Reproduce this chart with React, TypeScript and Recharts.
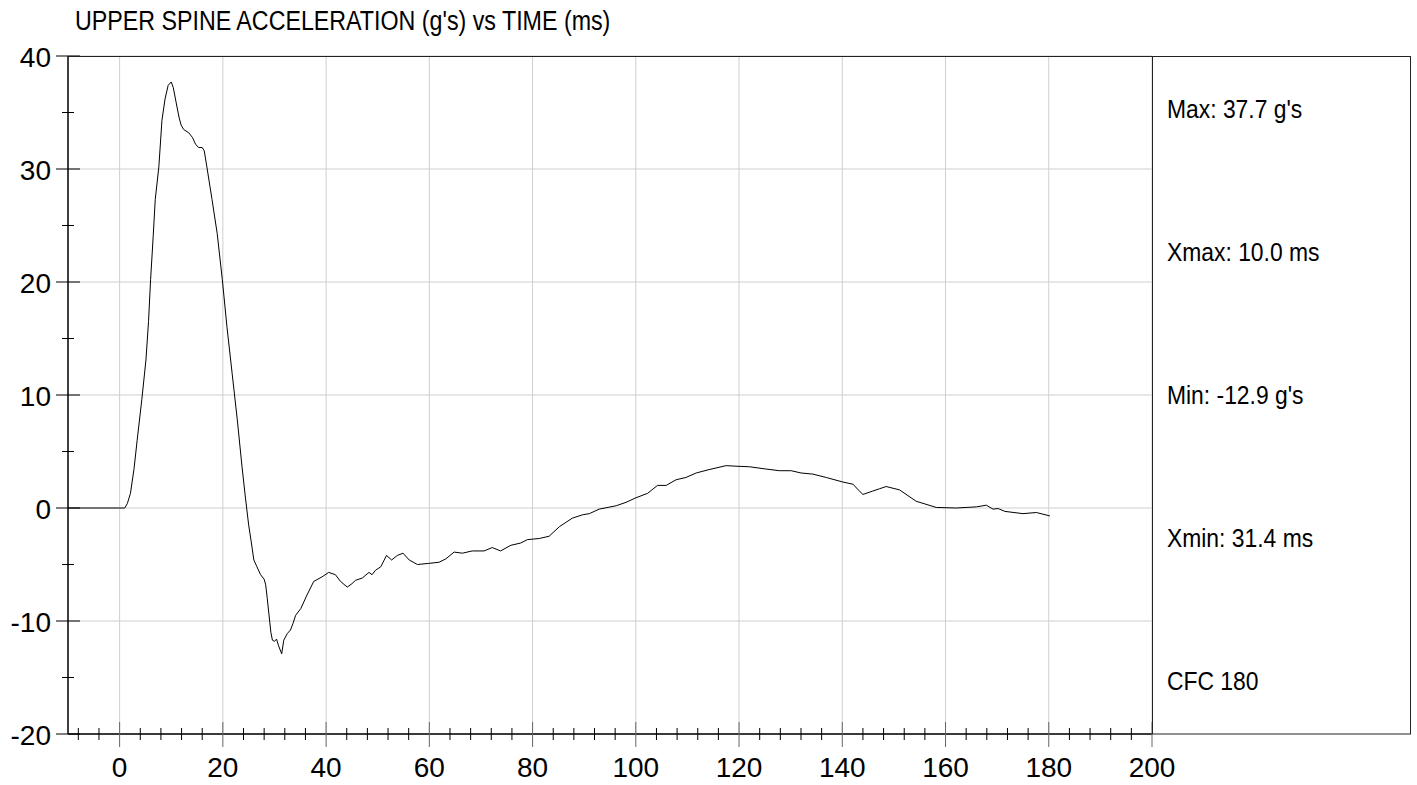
import React from "react";
import { LineChart, Line, XAxis, YAxis, CartesianGrid } from "recharts";

// sampled off the reference trace (time in ms, acceleration in g)
const timeMs = [
  -10, 0, 1.0, 1.5, 2.1, 2.8, 3.4, 4.3, 5.1, 5.6, 6.0, 6.5, 6.9, 7.6, 8.2, 8.8, 9.4, 10.0,
  10.4, 10.9, 11.5, 11.9, 12.4, 13.4, 14.1, 14.7, 15.3, 16.0, 16.4, 16.9, 17.9, 18.9, 19.9,
  20.8, 21.8, 22.8, 23.7, 24.4, 25.0, 25.5, 26.0, 26.6, 27.3, 28.0, 28.3, 28.6, 28.9, 29.3,
  29.6, 30.0, 30.4, 30.8, 31.4, 31.8, 32.5, 33.1, 33.6, 34.1, 35.1, 36.3, 37.6, 39.2, 40.5,
  41.8, 42.8, 44.1, 45.0, 45.7, 47.0, 48.3, 48.9, 49.6, 50.6, 51.7, 52.7, 53.8, 54.9, 56.1,
  57.7, 59.9, 61.9, 63.2, 64.8, 66.4, 68.3, 70.6, 72.2, 73.8, 75.8, 77.7, 79.0, 81.3, 83.2,
  85.2, 87.7, 89.7, 91.0, 92.9, 96.2, 98.1, 100.0, 102.3, 104.2, 105.9, 107.8, 109.7, 111.7,
  114.2, 117.5, 119.4, 122.0, 125.2, 127.8, 130.1, 132.0, 134.3, 136.9, 140.1, 142.1, 143.1,
  144.0, 145.9, 147.2, 148.5, 151.1, 154.3, 158.2, 162.1, 166.0, 167.9, 169.2, 170.2, 171.5,
  175.0, 177.6, 180.2,
];
const accelG = [
  0, 0, 0, 0.4, 1.3, 3.5, 6.0, 9.6, 13.1, 16.5, 20.2, 24.0, 27.3, 30.2, 34.3, 36.2, 37.4, 37.7,
  37.2, 36.0, 34.6, 33.9, 33.5, 33.2, 32.8, 32.2, 31.9, 31.9, 31.6, 30.2, 27.3, 24.3, 20.2,
  16.0, 11.9, 7.8, 3.7, 0.8, -1.5, -3.0, -4.6, -5.2, -5.9, -6.3, -6.8, -8.0, -9.3, -11.0,
  -11.7, -11.8, -11.6, -12.2, -12.9, -11.7, -11.1, -10.8, -10.2, -9.5, -8.9, -7.7, -6.5, -6.1, -5.7,
  -5.9, -6.5, -7.0, -6.7, -6.4, -6.2, -5.7, -5.9, -5.5, -5.2, -4.2, -4.6, -4.2, -4.0, -4.6,
  -5.0, -4.9, -4.8, -4.5, -3.9, -4.0, -3.8, -3.8, -3.5, -3.8, -3.3, -3.1, -2.8, -2.7, -2.5,
  -1.65, -0.9, -0.6, -0.5, -0.1, 0.2, 0.5, 0.9, 1.3, 2.0, 2.0, 2.5, 2.7, 3.1,
  3.4, 3.75, 3.7, 3.65, 3.45, 3.3, 3.3, 3.1, 3.0, 2.7, 2.3, 2.1, 1.6,
  1.2, 1.5, 1.7, 1.9, 1.6, 0.6, 0.05, 0.0, 0.1, 0.25, -0.1, -0.05, -0.3,
  -0.5, -0.4, -0.7,
];

const xDomain = [-10, 200];
const yDomain = [-20, 40];
const xMajor = [0, 20, 40, 60, 80, 100, 120, 140, 160, 180, 200];
const xTicks = [-8, -4, 0, 4, 8, 12, 16, 20, 24, 28, 32, 36, 40, 44, 48, 52, 56, 60, 64, 68, 72, 76, 80,
  84, 88, 92, 96, 100, 104, 108, 112, 116, 120, 124, 128, 132, 136, 140, 144, 148, 152, 156, 160,
  164, 168, 172, 176, 180, 184, 188, 192, 196, 200];
const yMajor = [-20, -10, 0, 10, 20, 30, 40];
const yTicks = [-20, -15, -10, -5, 0, 5, 10, 15, 20, 25, 30, 35, 40];

const title = "UPPER SPINE ACCELERATION (g's) vs TIME (ms)";
const stats = ["Max: 37.7 g's", "Xmax: 10.0 ms", "Min: -12.9 g's", "Xmin: 31.4 ms", "CFC 180"];

const rows = timeMs.map((t, i) => ({ t, g: accelG[i] }));

const FONT = "'Liberation Sans', Arial, sans-serif";

const XTick = (props: any) => {
  const { x, y, payload } = props;
  const major = xMajor.includes(payload.value);
  return (
    <g>
      <line x1={x} x2={x} y1={y - (major ? 12 : 6)} y2={y + (major ? 13 : 6)} stroke={major ? "#666" : "#000"} />
      {major && (
        <text x={x} y={y + 43} textAnchor="middle" fontSize={28} fontFamily={FONT} fill="#000">
          {payload.value}
        </text>
      )}
    </g>
  );
};

const YTick = (props: any) => {
  const { x, y, payload } = props;
  const major = yMajor.includes(payload.value);
  return (
    <g>
      <line x1={x - (major ? 12 : 6)} x2={x + (major ? 12 : 6)} y1={y} y2={y} stroke="#000" />
      {major && (
        <text x={x - 17} y={y + 10.5} textAnchor="end" fontSize={28} fontFamily={FONT} fill="#000">
          {payload.value}
        </text>
      )}
    </g>
  );
};

// grid only at the labelled values, placed inside the plot offset
const gridX = ({ offset }: any) =>
  xMajor.map((v) => offset.left + ((v - xDomain[0]) / (xDomain[1] - xDomain[0])) * offset.width);
const gridY = ({ offset }: any) =>
  yMajor.map((v) => offset.top + ((yDomain[1] - v) / (yDomain[1] - yDomain[0])) * offset.height);

export default function App() {
  return (
    <div style={{ position: "absolute", left: 0, top: 0, width: 1417, height: 785, background: "#fff" }}>
      <LineChart width={1417} height={785} data={rows} margin={{ top: 56, right: 265, bottom: 0, left: 0 }}>
        <CartesianGrid stroke="#cfcfcf" verticalCoordinatesGenerator={gridX} horizontalCoordinatesGenerator={gridY} />
        <XAxis
          dataKey="t"
          type="number"
          domain={xDomain}
          ticks={xTicks}
          interval={0}
          height={51}
          tickSize={0}
          tickMargin={0}
          tickLine={false}
          tick={<XTick />}
          axisLine={{ stroke: "#000", strokeWidth: 1.5 }}
          allowDataOverflow
        />
        <YAxis
          type="number"
          domain={yDomain}
          ticks={yTicks}
          interval={0}
          width={68}
          tickSize={0}
          tickMargin={0}
          tickLine={false}
          tick={<YTick />}
          axisLine={{ stroke: "#000", strokeWidth: 1.5 }}
          allowDataOverflow
        />
        <Line dataKey="g" type="linear" stroke="#000" strokeWidth={1} dot={false} isAnimationActive={false} />
      </LineChart>
      <svg width={1417} height={785} style={{ position: "absolute", left: 0, top: 0, pointerEvents: "none" }}>
        <line x1={68} x2={1152} y1={56.5} y2={56.5} stroke="#222" />
        <rect x={1152.5} y={56.5} width={258} height={677.5} fill="none" stroke="#222" />
        <text transform="translate(75,30) scale(0.83,1)" fontSize={28} fontFamily={FONT} fill="#000">
          {title}
        </text>
        {stats.map((s, i) => (
          <text
            key={s}
            transform={`translate(1167,${118 + i * 143}) scale(0.88,1)`}
            fontSize={26}
            fontFamily={FONT}
            fill="#000"
          >
            {s}
          </text>
        ))}
      </svg>
    </div>
  );
}
